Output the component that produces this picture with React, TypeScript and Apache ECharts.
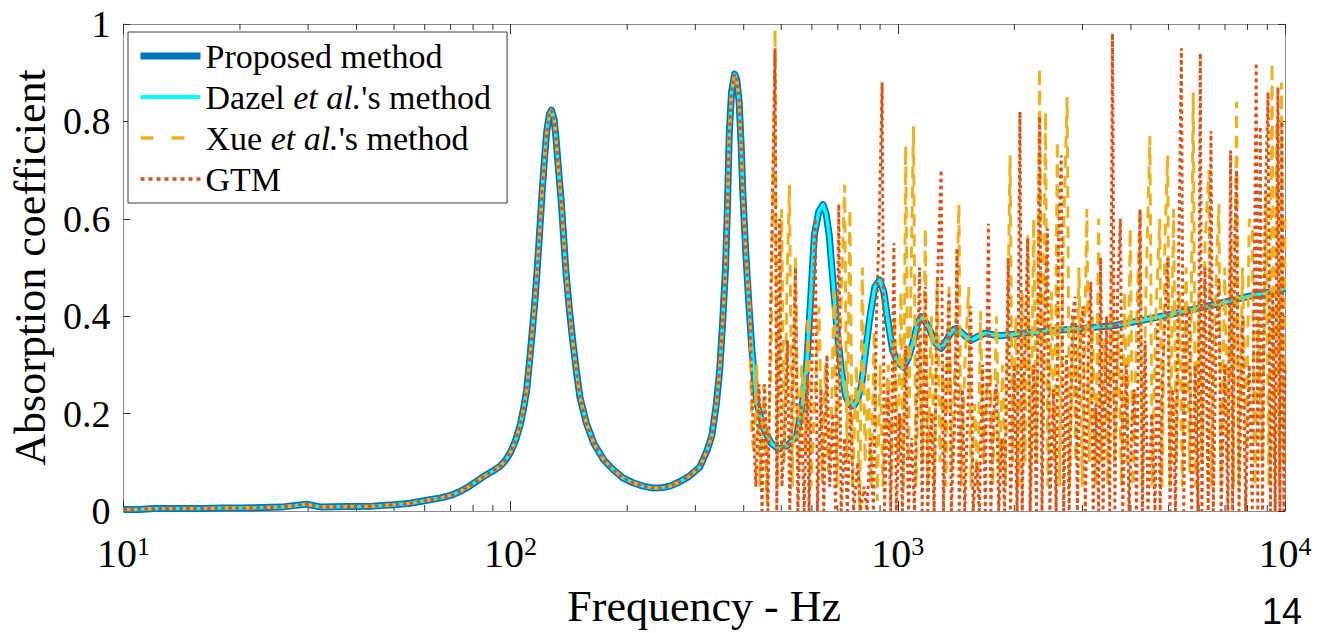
import React, { useEffect, useRef } from 'react';
import * as echarts from 'echarts';

const SERIF = 'Liberation Serif, Times New Roman, serif';

// Smooth curve shared by the proposed method and Dazel et al.'s method (Hz, absorption)
const smoothFreq = [10, 11, 12, 14, 16, 18, 20, 23, 25.6, 27.5, 29.7, 31, 32.5, 38, 44, 50, 55, 60.8, 66, 70, 74, 78, 82, 86, 90, 94, 97, 100, 103, 106, 108, 110, 112, 113.5, 115.5, 117, 119, 120.5, 122.5, 124, 126, 127.5, 129.5, 131, 133, 135, 137, 139, 142, 145, 148, 151, 157, 164, 174, 184, 195, 207, 220, 234, 246, 258, 275, 290, 308, 322, 331, 340, 347, 353, 359, 363, 367, 372, 379, 384, 389, 394, 398, 405, 412, 420, 432, 450, 470, 493, 520, 548, 565, 581, 595, 609, 625, 641, 653, 665, 682, 699, 716, 733, 750, 770, 788, 806, 826, 846, 872, 898, 920, 941, 970, 998, 1035, 1065, 1096, 1125, 1149, 1175, 1205, 1250, 1294, 1325, 1356, 1390, 1422, 1480, 1544, 1610, 1677, 1760, 1845, 2100, 2500, 3000, 3634, 4300, 5160, 6520, 8000, 10000];
const smoothAbs = [0.003, 0.003, 0.005, 0.005, 0.005, 0.006, 0.006, 0.007, 0.008, 0.011, 0.014, 0.011, 0.008, 0.009, 0.010, 0.013, 0.016, 0.022, 0.027, 0.032, 0.040, 0.050, 0.062, 0.073, 0.082, 0.092, 0.104, 0.121, 0.145, 0.178, 0.21, 0.248, 0.31, 0.36, 0.43, 0.49, 0.58, 0.65, 0.73, 0.78, 0.815, 0.823, 0.805, 0.765, 0.70, 0.64, 0.565, 0.49, 0.41, 0.343, 0.285, 0.234, 0.18, 0.139, 0.105, 0.085, 0.068, 0.058, 0.051, 0.047, 0.048, 0.051, 0.061, 0.072, 0.09, 0.125, 0.155, 0.22, 0.292, 0.39, 0.499, 0.62, 0.774, 0.86, 0.897, 0.885, 0.843, 0.75, 0.65, 0.53, 0.43, 0.33, 0.224, 0.17, 0.14, 0.127, 0.135, 0.155, 0.21, 0.292, 0.43, 0.567, 0.615, 0.629, 0.61, 0.567, 0.46, 0.36, 0.285, 0.237, 0.218, 0.216, 0.23, 0.258, 0.33, 0.395, 0.46, 0.474, 0.45, 0.395, 0.33, 0.306, 0.295, 0.315, 0.347, 0.385, 0.399, 0.39, 0.375, 0.345, 0.334, 0.345, 0.36, 0.372, 0.375, 0.362, 0.35, 0.358, 0.365, 0.362, 0.36, 0.365, 0.37, 0.375, 0.381, 0.392, 0.405, 0.423, 0.44, 0.457];

// Frequency above which Xue et al.'s method and GTM depart from the smooth curve
const divergeFreq = 405;

// Xue et al.'s method above the divergence (Hz, absorption)
const xueNoise = [[415, 0.42], [420, 0.15], [426, 0.12], [432, 0.30], [440, 0.05], [451, 0.26], [459, 0.02], [470, 0.30], [482, 0.99], [488, 0.05], [501, 0.62], [509, 0.10], [517, 0.45], [525, 0.67], [534, 0.05], [544, 0.52], [554, 0.08], [565, 0.30], [577, 0.12], [586, 0.40], [597, 0.05], [612, 0.25], [626, 0.42], [638, 0.06], [650, 0.30], [662, 0.08], [672, 0.14], [684, 0.45], [697, 0.05], [712, 0.40], [729, 0.67], [739, 0.10], [752, 0.62], [764, 0.05], [782, 0.30], [797, 0.0], [810, 0.50], [823, 0.10], [839, 0.28], [853, 0.05], [869, 0.37], [885, 0.02], [900, 0.30], [915, 0.05], [932, 0.22], [945, 0.30], [961, 0.05], [982, 0.40], [1000, 0.10], [1019, 0.45], [1033, 0.04], [1048, 0.75], [1065, 0.10], [1083, 0.50], [1098, 0.79], [1114, 0.05], [1140, 0.35], [1158, 0.10], [1178, 0.58], [1195, 0.05], [1221, 0.40], [1244, 0.05], [1264, 0.48], [1285, 0.10], [1309, 0.30], [1331, 0.05], [1356, 0.46], [1379, 0.08], [1411, 0.35], [1438, 0.63], [1458, 0.05], [1489, 0.30], [1525, 0.46], [1546, 0.05], [1579, 0.22], [1609, 0.05], [1636, 0.41], [1663, 0.10], [1698, 0.25], [1735, 0.28], [1759, 0.05], [1797, 0.40], [1831, 0.08], [1865, 0.30], [1896, 0.05], [1950, 0.73], [1978, 0.10], [2019, 0.40], [2057, 0.05], [2096, 0.45], [2131, 0.10], [2166, 0.57], [2202, 0.05], [2244, 0.60], [2281, 0.10], [2324, 0.91], [2357, 0.15], [2407, 0.82], [2441, 0.05], [2493, 0.45], [2540, 0.10], [2582, 0.76], [2619, 0.05], [2675, 0.55], [2738, 0.85], [2777, 0.05], [2836, 0.40], [2883, 0.10], [2937, 0.50], [2993, 0.05], [3078, 0.62], [3122, 0.10], [3181, 0.40], [3241, 0.05], [3302, 0.60], [3349, 0.10], [3421, 0.35], [3485, 0.05], [3568, 0.50], [3627, 0.10], [3713, 0.37], [3783, 0.05], [3855, 0.45], [3910, 0.10], [3984, 0.58], [4049, 0.05], [4144, 0.40], [4223, 0.62], [4282, 0.05], [4374, 0.45], [4477, 0.77], [4541, 0.05], [4638, 0.40], [4748, 0.60], [4815, 0.05], [4895, 0.55], [4976, 0.73], [5047, 0.05], [5153, 0.62], [5238, 0.10], [5337, 0.45], [5426, 0.05], [5554, 0.50], [5673, 0.08], [5794, 0.86], [5875, 0.05], [6001, 0.45], [6100, 0.10], [6216, 0.55], [6364, 0.70], [6453, 0.05], [6591, 0.40], [6747, 0.63], [6842, 0.05], [6988, 0.50], [7121, 0.10], [7238, 0.55], [7358, 0.05], [7497, 0.84], [7604, 0.05], [7766, 0.50], [7950, 0.10], [8082, 0.60], [8233, 0.58], [8349, 0.05], [8528, 0.40], [8729, 0.10], [8937, 0.65], [9085, 0.05], [9256, 0.92], [9387, 0.10], [9521, 0.80], [9655, 0.05], [9792, 0.88], [9907, 0.10], [10000, 0.60]];

// GTM above the divergence (Hz, absorption)
const gtmNoise = [[415, 0.40], [422, 0.20], [430, 0.05], [438, 0.26], [446, 0.0], [453, 0.26], [462, 0.0], [470, 0.45], [482, 0.95], [487, 0.0], [495, 0.60], [502, 0.05], [512, 0.18], [519, 0.35], [526, 0.0], [536, 0.30], [544, 0.50], [552, 0.0], [563, 0.22], [573, 0.0], [584, 0.28], [590, 0.0], [602, 0.35], [612, 0.60], [620, 0.0], [633, 0.25], [644, 0.0], [656, 0.32], [667, 0.05], [680, 0.20], [691, 0.0], [704, 0.63], [714, 0.0], [729, 0.15], [741, 0.0], [755, 0.22], [769, 0.0], [788, 0.10], [801, 0.0], [818, 0.05], [833, 0.0], [849, 0.15], [865, 0.0], [881, 0.40], [896, 0.60], [911, 0.88], [924, 0.0], [943, 0.25], [959, 0.0], [977, 0.55], [991, 0.0], [1012, 0.20], [1028, 0.0], [1048, 0.34], [1065, 0.0], [1086, 0.15], [1104, 0.0], [1138, 0.50], [1156, 0.0], [1178, 0.46], [1195, 0.0], [1221, 0.20], [1241, 0.0], [1264, 0.45], [1294, 0.70], [1312, 0.0], [1337, 0.30], [1356, 0.45], [1375, 0.0], [1405, 0.20], [1421, 0.54], [1441, 0.0], [1469, 0.25], [1489, 0.0], [1518, 0.22], [1543, 0.42], [1565, 0.0], [1598, 0.10], [1624, 0.0], [1655, 0.30], [1683, 0.0], [1714, 0.59], [1739, 0.0], [1767, 0.20], [1797, 0.26], [1822, 0.0], [1857, 0.15], [1887, 0.0], [1928, 0.52], [1955, 0.0], [1997, 0.30], [2033, 0.0], [2067, 0.82], [2096, 0.0], [2131, 0.35], [2166, 0.56], [2197, 0.0], [2244, 0.30], [2281, 0.0], [2324, 0.81], [2357, 0.0], [2396, 0.40], [2435, 0.58], [2470, 0.0], [2523, 0.25], [2564, 0.0], [2600, 0.55], [2643, 0.73], [2681, 0.0], [2725, 0.32], [2770, 0.0], [2823, 0.40], [2869, 0.44], [2910, 0.0], [2958, 0.35], [3007, 0.42], [3050, 0.0], [3100, 0.30], [3151, 0.47], [3196, 0.0], [3249, 0.22], [3302, 0.0], [3341, 0.52], [3389, 0.0], [3461, 0.40], [3527, 0.0], [3585, 0.98], [3635, 0.0], [3696, 0.45], [3757, 0.60], [3810, 0.0], [3891, 0.30], [3956, 0.0], [4021, 0.18], [4077, 0.25], [4134, 0.0], [4223, 0.62], [4282, 0.0], [4353, 0.35], [4426, 0.0], [4530, 0.20], [4616, 0.0], [4692, 0.39], [4759, 0.0], [4838, 0.30], [4976, 0.52], [5047, 0.0], [5130, 0.25], [5214, 0.0], [5300, 0.45], [5400, 0.95], [5477, 0.0], [5567, 0.40], [5659, 0.42], [5739, 0.0], [5862, 0.30], [5959, 0.0], [6043, 0.94], [6100, 0.0], [6216, 0.50], [6334, 0.0], [6438, 0.78], [6529, 0.0], [6637, 0.35], [6747, 0.48], [6842, 0.0], [6988, 0.30], [7121, 0.0], [7238, 0.74], [7324, 0.0], [7410, 0.55], [7497, 0.70], [7604, 0.0], [7766, 0.40], [7913, 0.0], [8082, 0.30], [8233, 0.0], [8428, 0.92], [8507, 0.0], [8628, 0.79], [8750, 0.0], [8874, 0.60], [9041, 0.86], [9170, 0.0], [9300, 0.45], [9432, 0.0], [9588, 0.87], [9701, 0.0], [9815, 0.80], [9931, 0.0], [10000, 0.30]];

// Axis ticks
const xMin = 10;
const xMax = 10000;
const minorTickFreq = [20, 30, 40, 50, 60, 70, 80, 90, 200, 300, 400, 500, 600, 700, 800, 900, 2000, 3000, 4000, 5000, 6000, 7000, 8000, 9000];
const yTicks = [0, 0.2, 0.4, 0.6, 0.8, 1];

const seriesNames = ['Proposed method', "Dazel et al.'s method", "Xue et al.'s method", 'GTM'];
const legendLabels: Record<string, string> = {
  'Proposed method': 'Proposed method',
  "Dazel et al.'s method": "Dazel {i|et al.}'s method",
  "Xue et al.'s method": "Xue {i|et al.}'s method",
  GTM: 'GTM',
};

const smoothData = smoothFreq.map((f, i) => [f, smoothAbs[i]]);
const commonData = smoothData.filter((p) => p[0] <= divergeFreq);
const xueData = commonData.concat(xueNoise);
const gtmData = commonData.concat(gtmNoise);

const AXIS_COLOR = '#8a8a8a';
const TICK_COLOR = '#333333';

function buildOption(): any {
  const xAxisBase = {
    type: 'log',
    logBase: 10,
    min: xMin,
    max: xMax,
    splitLine: { show: false },
    minorTick: { show: false },
    axisLine: { show: true, onZero: false, lineStyle: { color: AXIS_COLOR, width: 1 } },
    axisTick: { show: true, inside: true, length: 10, lineStyle: { color: TICK_COLOR, width: 1 } },
  };
  const yAxisBase = {
    type: 'value',
    min: yTicks[0],
    max: yTicks[yTicks.length - 1],
    interval: 0.2,
    splitLine: { show: false },
    axisLine: { show: true, lineStyle: { color: AXIS_COLOR, width: 1 } },
    axisTick: { show: true, inside: true, length: 7, lineStyle: { color: TICK_COLOR, width: 1 } },
  };
  return {
    animation: false,
    backgroundColor: '#ffffff',
    textStyle: { fontFamily: SERIF },
    grid: { left: 123, right: 34, top: 24, bottom: 118, containLabel: false },
    xAxis: [
      {
        ...xAxisBase,
        position: 'bottom',
        name: '{t|Frequency - Hz}',
        nameLocation: 'middle',
        nameGap: 73,
        nameTextStyle: {
          fontFamily: SERIF,
          fontSize: 44,
          color: '#000',
          rich: { t: { fontFamily: SERIF, fontSize: 44, lineHeight: 44, color: '#000' } },
        },
        axisLabel: {
          show: true,
          margin: 22,
          fontFamily: SERIF,
          formatter: (v: number) => `{b|10}{s|${Math.round(Math.log10(v))}}`,
          rich: {
            b: { fontFamily: SERIF, fontSize: 40, lineHeight: 40, color: '#000' },
            s: { fontFamily: SERIF, fontSize: 26, lineHeight: 22, color: '#000', verticalAlign: 'top' },
          },
        },
      },
      {
        ...xAxisBase,
        position: 'top',
        axisLabel: { show: false },
      },
    ],
    yAxis: [
      {
        ...yAxisBase,
        position: 'left',
        name: '{t|Absorption coefficient}',
        nameLocation: 'middle',
        nameRotate: 90,
        nameGap: 66,
        nameTextStyle: {
          fontFamily: SERIF,
          fontSize: 44,
          color: '#000',
          rich: { t: { fontFamily: SERIF, fontSize: 44, lineHeight: 44, color: '#000' } },
        },
        axisLabel: {
          show: true,
          margin: 13,
          fontFamily: SERIF,
          fontSize: 38,
          color: '#000',
          formatter: (v: number) => `{v|${v === 0 || v === 1 ? String(v) : v.toFixed(1)}}`,
          rich: { v: { fontFamily: SERIF, fontSize: 38, lineHeight: 38, color: '#000' } },
        },
      },
      {
        ...yAxisBase,
        position: 'right',
        axisLabel: { show: false },
      },
    ],
    legend: {
      show: true,
      orient: 'vertical',
      left: 128,
      top: 32,
      padding: [7, 16, 7, 9],
      itemGap: 7,
      itemWidth: 60,
      itemHeight: 34,
      backgroundColor: '#ffffff',
      borderColor: '#3a3a3a',
      borderWidth: 1,
      borderRadius: 0,
      selectedMode: false,
      formatter: (name: string) => legendLabels[name],
      itemStyle: { opacity: 0, borderWidth: 0 },
      textStyle: {
        fontFamily: SERIF,
        fontSize: 34,
        lineHeight: 34,
        color: '#000',
        rich: {
          i: { fontFamily: SERIF, fontSize: 34, lineHeight: 34, fontStyle: 'italic', color: '#000' },
        },
      },
      data: [
        { name: seriesNames[0], lineStyle: { width: 7 } },
        { name: seriesNames[1], lineStyle: { width: 4 } },
        { name: seriesNames[2], lineStyle: { width: 3.5, type: [13, 18] } },
        { name: seriesNames[3], lineStyle: { width: 3.5, type: [4, 4] } },
      ],
    },
    graphic: [
      {
        type: 'text',
        x: 1282,
        y: 611,
        style: {
          text: '14',
          fontSize: 36,
          fontFamily: 'Liberation Sans',
          fill: '#000',
          textAlign: 'center',
          textVerticalAlign: 'middle',
        },
      },
    ],
    series: [
      {
        type: 'custom',
        name: 'minor ticks',
        silent: true,
        clip: false,
        z: 1,
        xAxisIndex: 0,
        yAxisIndex: 0,
        data: minorTickFreq.map((f) => [f, 0]),
        encode: { x: 0, y: 1 },
        renderItem: (_params: any, api: any) => {
          const f = api.value(0);
          const b = api.coord([f, 0]);
          const t = api.coord([f, 1]);
          return {
            type: 'group',
            children: [
              { type: 'line', shape: { x1: b[0], y1: b[1], x2: b[0], y2: b[1] - 6 }, style: { stroke: TICK_COLOR, lineWidth: 1 } },
              { type: 'line', shape: { x1: t[0], y1: t[1], x2: t[0], y2: t[1] + 6 }, style: { stroke: TICK_COLOR, lineWidth: 1 } },
            ],
          };
        },
      },
      {
        type: 'line',
        name: seriesNames[0],
        data: smoothData,
        symbol: 'none',
        silent: true,
        z: 2,
        lineStyle: { color: '#0072BD', width: 7, join: 'round' },
        itemStyle: { color: '#0072BD' },
      },
      {
        type: 'line',
        name: seriesNames[1],
        data: smoothData,
        symbol: 'none',
        silent: true,
        z: 3,
        lineStyle: { color: '#00FFFF', width: 3.5, join: 'round' },
        itemStyle: { color: '#00FFFF' },
      },
      {
        type: 'line',
        name: seriesNames[2],
        data: xueData,
        symbol: 'none',
        silent: true,
        z: 4,
        lineStyle: { color: '#EDB120', width: 3, type: [12, 8], join: 'bevel', cap: 'butt' },
        itemStyle: { color: '#EDB120' },
      },
      {
        type: 'line',
        name: seriesNames[3],
        data: gtmData,
        symbol: 'none',
        silent: true,
        z: 5,
        lineStyle: { color: '#D95319', width: 3, type: [3.5, 3.5], join: 'bevel', cap: 'butt' },
        itemStyle: { color: '#D95319' },
      },
    ],
  };
}

export default function App() {
  const ref = useRef<HTMLDivElement>(null);
  useEffect(() => {
    if (!ref.current) return;
    const chart = echarts.init(ref.current, null, { renderer: 'svg' });
    chart.setOption(buildOption());
    return () => {
      chart.dispose();
    };
  }, []);
  return (
    <div
      ref={ref}
      style={{ position: 'fixed', left: 0, top: 0, width: 1319, height: 633, background: '#ffffff' }}
    />
  );
}
